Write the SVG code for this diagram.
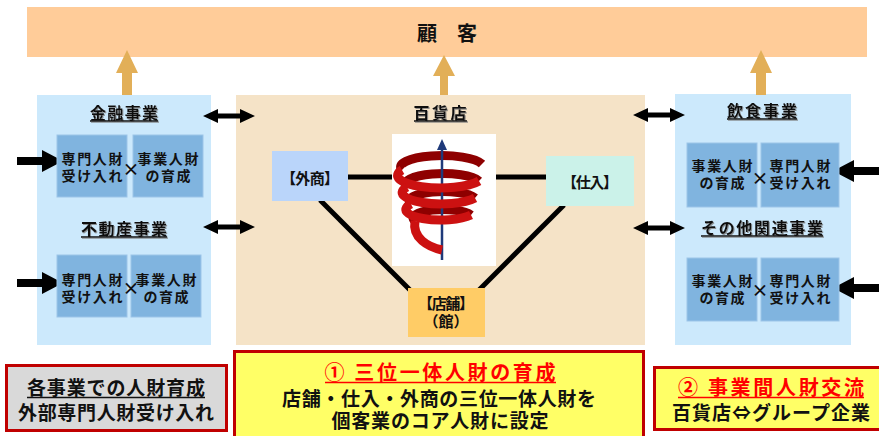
<svg xmlns="http://www.w3.org/2000/svg" width="879" height="436" viewBox="0 0 879 436">
  <defs>
    <style>
      text { font-family: "Noto Sans CJK JP", "Noto Sans CJK SC", sans-serif; font-weight: 700; fill: #111; dominant-baseline: central; text-anchor: middle; }
      .panel-blue { fill: #CCE9FC; }
      .panel-beige { fill: #F5E3C7; }
      .sub { fill: #80B4DF; stroke: #9CC5E8; stroke-width: 1; }
      .sub-t { font-size: 14px; }
      .title { font-size: 16px; filter: url(#shadow); }
      .ul { stroke: #111; stroke-width: 1.5; }
      .ul-t { stroke: #111; stroke-width: 1.5; filter: url(#shadow); }
      .ul-red { stroke: #FF0000; stroke-width: 1.5; }
      .up { fill: #E2AF58; }
      .blk { fill: #000; }
      .link { stroke: #000; stroke-width: 5; fill: none; }
      .node-t { font-size: 15px; }
      .note { stroke: #C00000; stroke-width: 3; }
      .note-t { font-size: 19px; }
      .note-h { font-size: 20px; fill: #FF0000; }
      .x { font-size: 17px; }
      .back { stroke: #8E0000; stroke-width: 9; fill: none; }
      .front { stroke: #CC1111; stroke-width: 9; fill: none; }
    </style>
    <filter id="shadow" filterUnits="userSpaceOnUse" x="0" y="0" width="879" height="436">
      <feDropShadow dx="1" dy="1" stdDeviation="0.4" flood-color="#7a7a7a" flood-opacity="0.8"/>
    </filter>
    <!-- upward arrow, tip at origin -->
    <path id="upArrow" d="M0,0 L11,23 L5,23 L5,45 L-5,45 L-5,23 L-11,23 Z"/>
    <!-- double-headed horizontal arrow, 52 long -->
    <path id="dblArrow" d="M0,0 L15,-7 L15,-2.5 L37,-2.5 L37,-7 L52,0 L37,7 L37,2.5 L15,2.5 L15,7 Z"/>
    <!-- incoming arrow, tip at origin pointing right -->
    <path id="inArrow" d="M-46,-4 L-21,-4 L-21,-11 L0,0 L-21,11 L-21,4 L-46,4 Z"/>
  </defs>

  <rect width="879" height="436" fill="#FFFFFF"/>

  <!-- customers bar -->
  <g id="customer">
    <rect x="27" y="7" width="840" height="50" fill="#FFCC99"/>
    <text x="447" y="32" font-size="20" textLength="60">顧 客</text>
  </g>

  <!-- business panels -->
  <g id="panel-left">
    <rect class="panel-blue" x="37" y="95" width="174" height="250"/>
  </g>
  <g id="panel-center">
    <rect class="panel-beige" x="236" y="95" width="409" height="250"/>
  </g>
  <g id="panel-right">
    <rect class="panel-blue" x="675" y="94" width="176" height="251"/>
  </g>

  <g id="connectors">
    <!-- to customers -->
    <use href="#upArrow" class="up" x="127" y="50"/>
    <path class="up" d="M444,55 L455,76 L448,76 L448,95 L440,95 L440,76 L433,76 Z"/>
    <use href="#upArrow" class="up" x="761" y="50"/>
    <!-- exchange between businesses -->
    <use href="#dblArrow" class="blk" x="203" y="116"/>
    <use href="#dblArrow" class="blk" x="203" y="227"/>
    <use href="#dblArrow" class="blk" x="633" y="115"/>
    <use href="#dblArrow" class="blk" x="633" y="228"/>
    <!-- external talent intake -->
    <use href="#inArrow" class="blk" x="63" y="161"/>
    <use href="#inArrow" class="blk" x="63" y="283"/>
    <use href="#inArrow" class="blk" transform="translate(833,171) scale(-1,1)"/>
    <use href="#inArrow" class="blk" transform="translate(833,288) scale(-1,1)"/>
    <!-- trinity links inside the department store -->
    <line class="link" x1="348" y1="177" x2="392" y2="177"/>
    <line class="link" x1="496" y1="177" x2="546" y2="177"/>
    <line class="link" x1="320" y1="200" x2="411" y2="291"/>
    <line class="link" x1="564" y1="205" x2="479" y2="290"/>
  </g>

  <!-- left side businesses -->
  <g id="finance">
    <text class="title" x="124" y="112" textLength="68">金融事業</text>
    <line class="ul-t" x1="90" y1="121" x2="158" y2="121"/>
    <rect class="sub" x="57" y="135" width="70" height="62"/>
    <rect class="sub" x="133" y="135" width="70" height="62"/>
    <text class="sub-t" x="92" y="158" textLength="61">専門人財</text>
    <text class="sub-t" x="92" y="175" textLength="61">受け入れ</text>
    <text class="sub-t" x="168" y="158" textLength="61">事業人財</text>
    <text class="sub-t" x="168" y="175" textLength="45">の育成</text>
    <text class="x" x="131" y="168">×</text>
  </g>
  <g id="real-estate">
    <text class="title" x="124" y="228" textLength="86">不動産事業</text>
    <line class="ul-t" x1="81" y1="237" x2="167" y2="237"/>
    <rect class="sub" x="57" y="255" width="70" height="62"/>
    <rect class="sub" x="131" y="255" width="70" height="62"/>
    <text class="sub-t" x="92" y="279" textLength="61">専門人財</text>
    <text class="sub-t" x="92" y="296" textLength="61">受け入れ</text>
    <text class="sub-t" x="166" y="279" textLength="61">事業人財</text>
    <text class="sub-t" x="166" y="296" textLength="45">の育成</text>
    <text class="x" x="131" y="287">×</text>
  </g>

  <!-- department store -->
  <g id="dept-store">
    <text class="title" x="440" y="112" textLength="53">百貨店</text>
    <line class="ul-t" x1="414" y1="121" x2="467" y2="121"/>
  </g>
  <g id="spiral">
    <rect x="392" y="134" width="104" height="132" fill="#FFFFFF"/>
    <path class="back" d="M482,164 A40,11 0 0 0 402,170"/>
    <path class="back" d="M479,181 A36,10 0 0 0 407,187"/>
    <path class="back" d="M475,198 A32,9 0 0 0 411,204"/>
    <path class="back" d="M471,215 A28,8 0 0 0 415,221"/>
    <line x1="442" y1="260" x2="442" y2="147" stroke="#1F3A7A" stroke-width="2.5"/>
    <path d="M442,139 L437,150 L447,150 Z" fill="#1F3A7A"/>
    <path class="front" d="M402,170 A38,11 0 0 0 479,181"/>
    <path class="front" d="M407,187 A34,10 0 0 0 475,198"/>
    <path class="front" d="M411,204 A30,9 0 0 0 471,215"/>
    <path class="front" d="M415,221 C412,238 428,247 442,250"/>
  </g>
  <g id="gaisho">
    <rect x="272" y="151" width="76" height="50" fill="#BAD5FA"/>
    <text class="node-t" x="310" y="177" textLength="58">【外商】</text>
  </g>
  <g id="shiire">
    <rect x="546" y="156" width="88" height="50" fill="#CBF2E9"/>
    <text class="node-t" x="590" y="181" textLength="56">【仕入】</text>
  </g>
  <g id="tenpo">
    <rect x="408" y="288" width="77" height="49" fill="#FFCC66"/>
    <text class="node-t" x="446" y="302" textLength="56">【店舗】</text>
    <text class="node-t" x="446" y="320">（館）</text>
  </g>

  <!-- right side businesses -->
  <g id="food">
    <text class="title" x="762" y="110" textLength="70">飲食事業</text>
    <line class="ul-t" x1="727" y1="119" x2="797" y2="119"/>
    <rect class="sub" x="687" y="143" width="70" height="64"/>
    <rect class="sub" x="761" y="143" width="78" height="64"/>
    <text class="sub-t" x="722" y="165" textLength="61">事業人財</text>
    <text class="sub-t" x="722" y="182" textLength="45">の育成</text>
    <text class="sub-t" x="800" y="165" textLength="61">専門人財</text>
    <text class="sub-t" x="800" y="182" textLength="61">受け入れ</text>
    <text class="x" x="760" y="177">×</text>
  </g>
  <g id="other">
    <text class="title" x="762" y="227" textLength="122">その他関連事業</text>
    <line class="ul-t" x1="701" y1="236" x2="823" y2="236"/>
    <rect class="sub" x="687" y="258" width="70" height="63"/>
    <rect class="sub" x="761" y="258" width="78" height="63"/>
    <text class="sub-t" x="722" y="280" textLength="61">事業人財</text>
    <text class="sub-t" x="722" y="297" textLength="45">の育成</text>
    <text class="sub-t" x="800" y="280" textLength="61">専門人財</text>
    <text class="sub-t" x="800" y="297" textLength="61">受け入れ</text>
    <text class="x" x="760" y="289">×</text>
  </g>

  <!-- notes -->
  <g id="note-each">
    <rect class="note" x="6.5" y="365.5" width="220" height="65" fill="#D9D9D9"/>
    <text class="note-t" x="116" y="386" textLength="178">各事業での人財育成</text>
    <line class="ul" x1="27" y1="397.5" x2="205" y2="397.5"/>
    <text class="note-t" x="116" y="411" textLength="196">外部専門人財受け入れ</text>
  </g>
  <g id="note-trinity">
    <rect class="note" x="234.5" y="351.5" width="409" height="95" fill="#FFFF66"/>
    <text class="note-h" x="440" y="371" textLength="231">① 三位一体人財の育成</text>
    <line class="ul-red" x1="325" y1="382.5" x2="556" y2="382.5"/>
    <text class="note-t" x="439" y="397" textLength="314">店舗・仕入・外商の三位一体人財を</text>
    <text class="note-t" x="440" y="419" textLength="217">個客業のコア人財に設定</text>
  </g>
  <g id="note-exchange">
    <rect class="note" x="654.5" y="367.5" width="240" height="62" fill="#FFFF66"/>
    <text class="note-h" x="771" y="386" textLength="186">② 事業間人財交流</text>
    <line class="ul-red" x1="678" y1="397.5" x2="864" y2="397.5"/>
    <text class="note-t" x="771" y="411" textLength="198">百貨店⇔グループ企業</text>
  </g>
</svg>
